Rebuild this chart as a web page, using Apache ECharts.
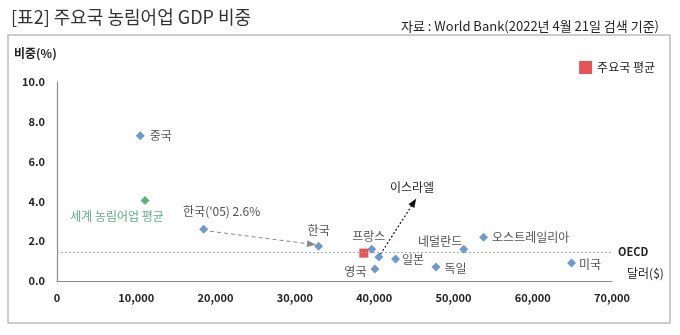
<!DOCTYPE html>
<html>
<head>
<meta charset="utf-8">
<script src="https://cdn.jsdelivr.net/npm/echarts@6/dist/echarts.min.js"></script>
<style>
  html, body { margin: 0; padding: 0; background: #fff; }
  #chart { width: 680px; height: 335px; }
</style>
</head>
<body>
<div id="chart"></div>
<script>
// 1인당 GDP(달러)와 농림어업 비중(%)
const countries = ['중국', "한국('05) 2.6%", '한국', '프랑스', '이스라엘', '영국', '일본', '독일', '네덜란드', '오스트레일리아', '미국'];
const gdpPerCapita = [10500, 18500, 33000, 39700, 40600, 40100, 42700, 47800, 51300, 53800, 64900];
const agriShare = [7.3, 2.6, 1.75, 1.6, 1.2, 0.6, 1.1, 0.7, 1.6, 2.2, 0.9];

const worldAvg = { name: '세계 농림어업 평균', gdp: 11100, share: 4.05 };
const majorAvg = { name: '주요국 평균', gdp: 38700, share: 1.4 };
const oecdShare = 1.45;

const xTicks = { min: 0, max: 70000, interval: 10000 };
const yTicks = { min: 0, max: 10, interval: 2 };

// 라벨 위치 (국가별)
const labelPlace = {
  '중국': { position: 'right', offset: [0, 0] },
  "한국('05) 2.6%": { position: 'top', offset: [18, -2] },
  '한국': { position: 'top', offset: [0, 0] },
  '프랑스': { position: 'top', offset: [-3, 3] },
  '이스라엘': { show: false },
  '영국': { position: 'left', offset: [1, 2] },
  '일본': { position: 'right', offset: [-3, 0] },
  '독일': { position: 'right', offset: [-1, 1] },
  '네덜란드': { position: 'left', offset: [8, -8] },
  '오스트레일리아': { position: 'right', offset: [-1, 0] },
  '미국': { position: 'right', offset: [-2, 1] }
};

const countryData = countries.map((n, i) => {
  const p = labelPlace[n] || {};
  return {
    name: n,
    value: [gdpPerCapita[i], agriShare[i]],
    label: Object.assign({ show: true }, p)
  };
});

const textColor = '#222';
const fontFamily = '"Noto Sans CJK KR", "Noto Sans", sans-serif';

const chart = echarts.init(document.getElementById('chart'));
chart.setOption({
  animation: false,
  textStyle: { fontFamily: fontFamily },
  grid: { left: 57, right: 68, top: 82, bottom: 54, containLabel: false },
  title: [
    {
      text: '[표2] 주요국 농림어업 GDP 비중',
      left: 6, top: 3,
      textStyle: { fontSize: 18, fontWeight: 'normal', color: '#333', fontFamily: fontFamily }
    },
    {
      text: '자료 : World Bank(2022년 4월 21일 검색 기준)',
      right: 16, top: 15,
      textStyle: { fontSize: 13, fontWeight: 'normal', color: '#222', fontFamily: fontFamily }
    }
  ],
  legend: {
    data: [majorAvg.name],
    right: 20, top: 56,
    icon: 'rect', itemWidth: 13, itemHeight: 13, itemGap: 8,
    textStyle: { fontSize: 12, color: textColor, fontFamily: fontFamily }
  },
  graphic: [
    {
      type: 'rect',
      shape: { x: 8, y: 35, width: 662, height: 288 },
      style: { fill: 'none', stroke: '#bdbdbd', lineWidth: 1.5 },
      silent: true
    },
    {
      type: 'text', left: 14, top: 47,
      style: { text: '비중(%)', fontSize: 12, fontWeight: 'bold', fill: textColor, fontFamily: fontFamily }
    },
    {
      type: 'text', left: 627, top: 267,
      style: { text: '달러($)', fontSize: 12, fill: textColor, fontFamily: fontFamily }
    },
    {
      type: 'text', left: 390, top: 181,
      style: { text: '이스라엘', fontSize: 12, fill: textColor, fontFamily: fontFamily }
    }
  ],
  xAxis: {
    type: 'value',
    min: xTicks.min, max: xTicks.max, interval: xTicks.interval,
    splitLine: { show: false },
    axisTick: { show: false },
    axisLine: { show: true, lineStyle: { color: '#8c8c8c', width: 1.2 } },
    axisLabel: {
      margin: 11, fontSize: 11, fontWeight: 'bold', color: textColor,
      formatter: v => v.toLocaleString('en-US')
    }
  },
  yAxis: {
    type: 'value',
    min: yTicks.min, max: yTicks.max, interval: yTicks.interval,
    splitLine: { show: false },
    axisTick: { show: false },
    axisLine: { show: true, onZero: false, lineStyle: { color: '#8c8c8c', width: 1.2 } },
    axisLabel: {
      margin: 12, fontSize: 11, fontWeight: 'bold', color: textColor,
      formatter: v => v.toFixed(1)
    }
  },
  series: [
    {
      name: '국가',
      type: 'scatter',
      symbol: 'diamond',
      symbolSize: 9,
      itemStyle: { color: '#4a7fbf' },
      label: {
        fontSize: 12, color: textColor, fontFamily: fontFamily,
        formatter: p => p.name
      },
      data: countryData,
      markLine: {
        silent: true,
        symbol: ['none', 'none'],
        label: { show: false },
        data: [
          // 한국 2005 → 현재
          [
            { coord: [19300, 2.5], symbol: 'none',
              lineStyle: { type: [4, 3], color: '#888888', width: 1 } },
            { coord: [32100, 1.85], symbol: 'triangle', symbolSize: [7, 9] }
          ],
          // 이스라엘
          [
            { coord: [40800, 1.35], symbol: 'none',
              lineStyle: { type: [2, 2], color: '#111111', width: 1.2 } },
            { coord: [45000, 3.95], symbol: 'triangle', symbolSize: [7, 9] }
          ]
        ]
      }
    },
    {
      name: worldAvg.name,
      type: 'scatter',
      symbol: 'diamond',
      symbolSize: 9,
      itemStyle: { color: '#3e9a5c' },
      label: {
        show: true, position: 'bottom', distance: 6, offset: [-28, 0],
        fontSize: 12, color: '#2e9a63', fontFamily: fontFamily,
        formatter: worldAvg.name
      },
      data: [[worldAvg.gdp, worldAvg.share]],
      // OECD 평균선
      markLine: {
        silent: true,
        symbol: ['none', 'none'],
        lineStyle: { type: [2, 2], color: '#aaaaaa', width: 1 },
        label: {
          show: true, position: 'end', formatter: 'OECD', fontSize: 11,
          fontWeight: 'bold', color: textColor, distance: 6
        },
        data: [{ yAxis: oecdShare }]
      }
    },
    {
      name: majorAvg.name,
      type: 'scatter',
      symbol: 'rect',
      symbolSize: 9,
      itemStyle: { color: '#e0282f' },
      data: [[majorAvg.gdp, majorAvg.share]]
    }
  ]
});
</script>
</body>
</html>
